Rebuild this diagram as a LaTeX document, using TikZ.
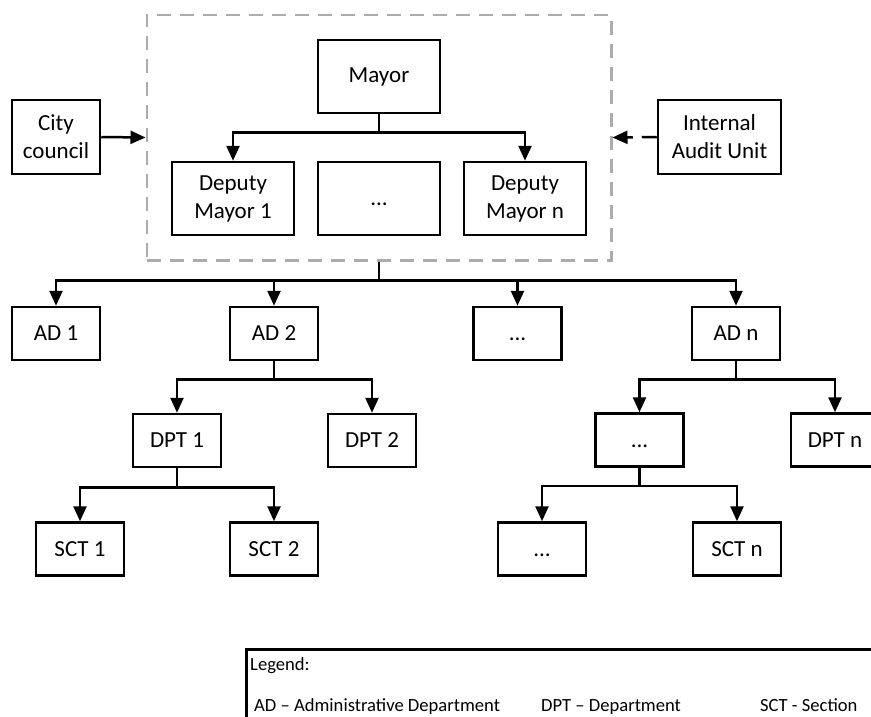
\documentclass[tikz,border=0pt]{standalone}
\usepackage{fontspec}
\setmainfont{Carlito}
\usetikzlibrary{arrows.meta,fit}

\begin{document}
\begin{tikzpicture}[x=1pt,y=-1pt]
      \tikzstyle{unit}=[draw=black, line width=2.5pt, minimum width=88pt, minimum height=53pt, inner sep=2pt, align=center, font=\fontsize{23}{28}\selectfont]
      \tikzstyle{unit_big}=[unit, minimum width=122pt, minimum height=73pt]
      \tikzstyle{unit_dots}=[align=none, text height=18pt, text depth=4pt]
      \tikzstyle{office}=[draw=gray!65, line width=2.5pt, dash pattern=on 14pt off 9pt, inner sep=24pt]
      \tikzstyle{link}=[line width=2.5pt, -{Triangle[length=15pt,width=13pt]}]
      \tikzstyle{legend_text}=[font=\fontsize{18.6}{22}\selectfont, anchor=base west, inner sep=0pt]

      \useasboundingbox (0,0) rectangle (871,716);
      \clip (0,0) rectangle (871,716);

      % mayor and deputies
      \node [unit_big] (mayor) at (379,76.5) {Mayor};
      \node [unit_big] (dm1) at (233,198.5) {Deputy\\Mayor 1};
      \node [unit_big,unit_dots] (dmdots) at (379,198.5) {...};
      \node [unit_big] (dmn) at (525,198.5) {Deputy\\Mayor n};
      \node (office) [office,fit=(mayor) (dm1) (dmn)] {};

      \node [unit, minimum height=74pt] (council) at (56,137) {City\\council};
      \node [unit, minimum width=123pt, minimum height=74pt] (audit) at (719.5,137) {Internal\\Audit Unit};

      % administrative departments
      \node [unit] (ad1) at (56,333.5) {AD 1};
      \node [unit] (ad2) at (274,333.5) {AD 2};
      \node [unit,unit_dots] (addots) at (517.5,333.5) {...};
      \node [unit] (adn) at (736,333.5) {AD n};

      % departments
      \node [unit] (dpt1) at (177,440.5) {DPT 1};
      \node [unit] (dpt2) at (372,440.5) {DPT 2};
      \node [unit,unit_dots] (dptdots) at (639.5,440) {...};
      \node [unit] (dptn) at (835,440) {DPT n};

      % sections
      \node [unit] (sct1) at (80,549) {SCT 1};
      \node [unit] (sct2) at (274,549) {SCT 2};
      \node [unit,unit_dots] (sctdots) at (542,549) {...};
      \node [unit] (sctn) at (737,549) {SCT n};

      \draw [link] (mayor.south) -- +(0,18) -| (dm1.north);
      \draw [link] (mayor.south) -- +(0,18) -| (dmn.north);
      \draw [link] (council.east) -- (office.west);
      \draw [link, dash pattern=on 15pt off 9pt] (audit.west) -- (office.east);

      \foreach \ad in {ad1,ad2,addots,adn}
        \draw [link] (office.south) -- +(0,19) -| (\ad.north);
      \foreach \dpt in {dpt1,dpt2}
        \draw [link] (ad2.south) -- +(0,18) -| (\dpt.north);
      \foreach \dpt in {dptdots,dptn}
        \draw [link] (adn.south) -- +(0,18) -| (\dpt.north);
      \foreach \sct in {sct1,sct2}
        \draw [link] (dpt1.south) -- +(0,19) -| (\sct.north);
      \foreach \sct in {sctdots,sctn}
        \draw [link] (dptdots.south) -- +(0,18) -| (\sct.north);

      % legend
      \node [draw=black, line width=2.5pt, anchor=north west, minimum width=660pt, minimum height=100pt] (legend) at (245,648) {};
      \node [legend_text] (legend_title) at (250,670) {Legend:};
      \node [legend_text] (legend_ad) at (254,711) {AD – Administrative Department};
      \node [legend_text] (legend_dpt) at (541,711) {DPT – Department};
      \node [legend_text] (legend_sct) at (760,711) {SCT - Section};

    \end{tikzpicture}
\end{document}
